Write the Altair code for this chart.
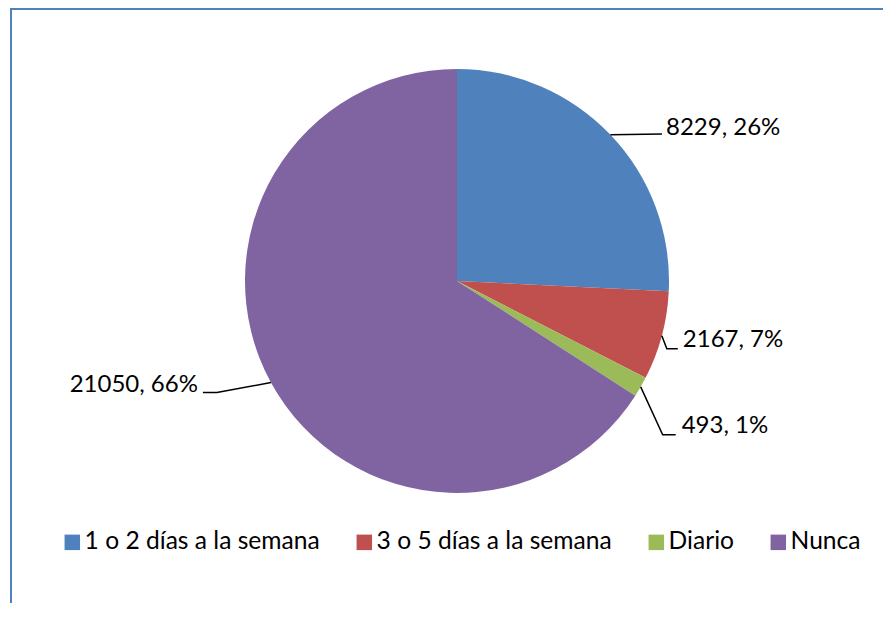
import altair as alt
import numpy as np
import pandas as pd

# ---------------- data ----------------
categories = ["1 o 2 días a la semana", "3 o 5 días a la semana", "Diario", "Nunca"]
values = [8229, 2167, 493, 21050]
percent_labels = ["26%", "7%", "1%", "66%"]
colors = ["#4F81BD", "#C0504D", "#9BBB59", "#8064A2"]

# ---------------- layout ----------------
W, H = 875, 595
CX, CY, R = 449, 273, 212
FONT = "Lato"
FS = 24
LEG_FS = 24.6
# leader-line offsets relative to the slice edge point (elbow, end),
# label offset relative to the end point, and text alignment
leader_elbow = [(0, 0), (5, 13), (22, 48), (-54, 10)]
leader_end = [(51.5, -0.8), (16, 13), (35, 48), (-68, 10)]
label_off = [(4, -6), (5, -8.5), (6, -8.5), (-5, -7.5)]
label_align = ["left", "left", "left", "right"]

# ---------------- derived geometry ----------------
vals = np.array(values, dtype=float)
cum = np.cumsum(vals)
mid = (cum - vals / 2) / vals.sum() * 2 * np.pi
sx = CX + R * np.sin(mid)
sy = CY - R * np.cos(mid)

df = pd.DataFrame({"cat": categories, "value": values, "order": list(range(len(values)))})

line_rows = []
for i, c in enumerate(categories):
    pts = [(0, 0), leader_elbow[i], leader_end[i]]
    for k, (dx, dy) in enumerate(pts):
        line_rows.append({"cat": c, "k": k, "lx": sx[i] + dx, "ly": sy[i] + dy})
lines_df = pd.DataFrame(line_rows)

lab_rows = []
for i, c in enumerate(categories):
    ex, ey = sx[i] + leader_end[i][0], sy[i] + leader_end[i][1]
    lab_rows.append({
        "cat": c,
        "label": f"{values[i]}, {percent_labels[i]}",
        "tx": ex + label_off[i][0],
        "ty": ey + label_off[i][1],
        "align": label_align[i],
    })
lab_df = pd.DataFrame(lab_rows)

color_scale = alt.Scale(domain=categories, range=colors)

pie = alt.Chart(df).mark_arc(outerRadius=R).encode(
    theta=alt.Theta("value:Q", stack=True),
    order=alt.Order("order:Q"),
    color=alt.Color(
        "cat:N",
        scale=color_scale,
        sort=categories,
        legend=alt.Legend(
            orient="none",
            legendX=52,
            legendY=522,
            direction="horizontal",
            title=None,
            symbolType="square",
            symbolSize=240,
            symbolStrokeWidth=0,
            symbolOpacity=1,
            labelFont=FONT,
            labelFontSize=LEG_FS,
            labelColor="black",
            labelOffset=0,
            labelLimit=500,
            columnPadding=32,
            padding=0,
        ),
    ),
    x=alt.value(CX),
    y=alt.value(CY),
)

leaders = alt.Chart(lines_df).mark_line(color="black", strokeWidth=1.5).encode(
    x=alt.X("lx:Q", scale=None),
    y=alt.Y("ly:Q", scale=None),
    detail="cat:N",
    order="k:Q",
)

texts_left = alt.Chart(lab_df[lab_df["align"] == "left"]).mark_text(
    align="left", baseline="middle", font=FONT, fontSize=FS, color="black"
).encode(x=alt.X("tx:Q", scale=None), y=alt.Y("ty:Q", scale=None), text="label:N")

texts_right = alt.Chart(lab_df[lab_df["align"] == "right"]).mark_text(
    align="right", baseline="middle", font=FONT, fontSize=FS, color="black"
).encode(x=alt.X("tx:Q", scale=None), y=alt.Y("ty:Q", scale=None), text="label:N")

frame_left = alt.Chart(df).mark_rule(color="#4F81BD", strokeWidth=2).encode(
    x=alt.value(3), y=alt.value(0), y2=alt.value(H)
)
frame_top = alt.Chart(df).mark_rule(color="#4F81BD", strokeWidth=2).encode(
    x=alt.value(3), x2=alt.value(W), y=alt.value(1)
)

chart = alt.layer(frame_left, frame_top, pie, leaders, texts_left, texts_right).properties(
    width=W,
    height=H,
    autosize=alt.AutoSizeParams(type="none"),
    padding=0,
    background="white",
).configure_view(stroke=None)

chart.save("out.html", embed_options={"renderer": "svg", "actions": False})
